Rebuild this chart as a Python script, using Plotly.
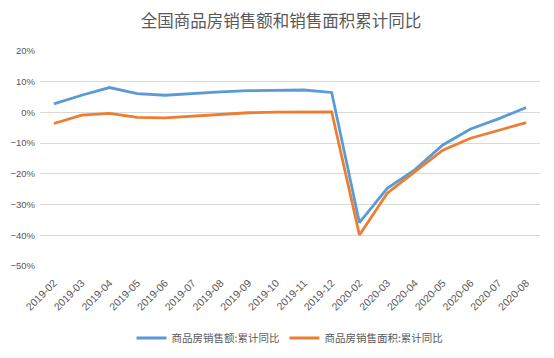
import plotly.graph_objects as go

months = ["2019-02", "2019-03", "2019-04", "2019-05", "2019-06", "2019-07", "2019-08",
          "2019-09", "2019-10", "2019-11", "2019-12", "2020-02", "2020-03", "2020-04",
          "2020-05", "2020-06", "2020-07", "2020-08"]
sales_amount = [2.8, 5.6, 8.1, 6.1, 5.6, 6.2, 6.7, 7.1, 7.3, 7.3, 6.5,
                -35.9, -24.7, -18.6, -10.6, -5.4, -2.1, 1.6]
sales_area = [-3.6, -0.9, -0.3, -1.6, -1.8, -1.3, -0.6, -0.1, 0.1, 0.2, 0.2,
              -39.9, -26.3, -19.3, -12.3, -8.4, -5.8, -3.3]
name_amount = "商品房销售额:累计同比"
name_area = "商品房销售面积:累计同比"
title = "全国商品房销售额和销售面积累计同比"
y_ticks = [20, 10, 0, -10, -20, -30, -40, -50]
y_ticktext = [("\u2212" if v < 0 else "") + f"{abs(v)}%" for v in y_ticks]

font_cjk = "Noto Sans CJK SC"
fig = go.Figure()
fig.add_trace(go.Scatter(x=months, y=sales_amount, name=name_amount, mode="lines",
                         line=dict(color="#5B9BD5", width=2.8)))
fig.add_trace(go.Scatter(x=months, y=sales_area, name=name_area, mode="lines",
                         line=dict(color="#ED7D31", width=2.8)))

fig.update_layout(
    width=546, height=350,
    paper_bgcolor="white", plot_bgcolor="white",
    margin=dict(l=32, r=14, t=43, b=92, autoexpand=False),
    title=dict(text=title, x=0.5, xanchor="center", y=0.963, yanchor="middle",
               font=dict(family=font_cjk, size=16.5, color="#595959")),
    font=dict(family=font_cjk, color="#595959", size=10),
    legend=dict(orientation="h", x=0.5, xanchor="center", y=-0.335, yanchor="middle",
                font=dict(size=10.5, color="#595959"), itemwidth=30, tracegroupgap=0),
    showlegend=True,
)
fig.update_xaxes(type="category", range=[-0.5, len(months) - 0.5], tickangle=-45,
                 showgrid=False, showline=False, ticks="", automargin=False,
                 ticklabelstandoff=8,
                 tickfont=dict(family="Liberation Sans", size=10.5, color="#595959"))
fig.update_yaxes(range=[-50, 20], tickvals=y_ticks, ticktext=y_ticktext,
                 showgrid=True, gridcolor="#D9D9D9", gridwidth=1, zeroline=False,
                 showline=False, ticks="", automargin=False, ticklabelstandoff=4,
                 tickfont=dict(family="Liberation Sans", size=9.5, color="#595959"))

fig.write_html("out.html")
